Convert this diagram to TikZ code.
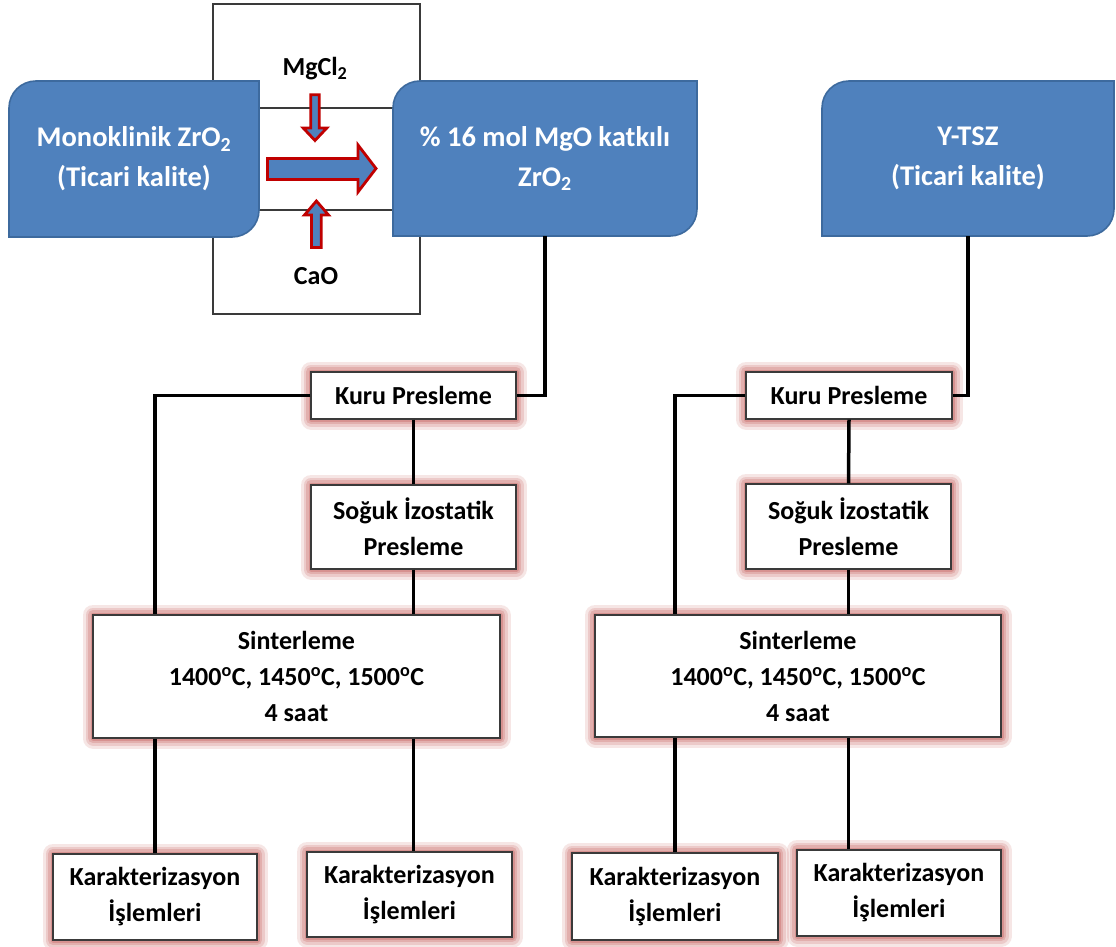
\documentclass[tikz,border=0pt]{standalone}
\usepackage{fontspec}
\setmainfont{Carlito}
\usetikzlibrary{calc}
\definecolor{boxblue}{HTML}{4F81BD}
\definecolor{boxblueborder}{HTML}{3D6A9E}
\definecolor{arrowred}{HTML}{C00000}
\definecolor{glowred}{HTML}{C0504D}
\definecolor{edgegray}{HTML}{3A3A3A}
\tikzset{
  x=1pt, y=-1pt,
  conn/.style={line width=3.5pt, black},
  glowbox/.style={draw=edgegray, line width=1.4pt, fill=white, inner sep=0pt, align=center,
     font=\bfseries\fontsize{26}{36}\selectfont,
     preaction={draw=glowred, draw opacity=0.14, line width=21pt, line join=round},
     preaction={draw=glowred, draw opacity=0.18, line width=15pt, line join=round},
     preaction={draw=glowred, draw opacity=0.22, line width=10pt, line join=round},
     preaction={draw=glowred, draw opacity=0.30, line width=5pt, line join=round}},
  bluetext/.style={text=white, align=center, inner sep=0pt,
     font=\bfseries\fontsize{28.5}{40}\selectfont},
  blueshape/.style={fill=boxblue, draw=boxblueborder, line width=1.6pt},
  blockarrow/.style={fill=boxblue, draw=arrowred, line width=2.8pt, line join=miter},
  chemlabel/.style={inner sep=0pt, font=\bfseries\fontsize{26}{30}\selectfont},
  chembox/.style={draw=edgegray, line width=1.3pt, fill=white, inner sep=0pt},
}
% blue box with rounded top-left and bottom-right corners: x1,y1,x2,y2 (y down)
\newcommand\myblueshape[4]{%
  \path[blueshape] (#1,#4) -- (#1,{#2+27})
    .. controls (#1,{#2+12}) and ({#1+12},#2) .. ({#1+27},#2)
    -- (#3,#2) -- (#3,{#4-27})
    .. controls (#3,{#4-12}) and ({#3-12},#4) .. ({#3-27},#4) -- cycle;}
\begin{document}
\begin{tikzpicture}
\useasboundingbox[fill=white] (0,0) rectangle (1116,947);

% central mixing box
\node[chembox, minimum width=207pt, minimum height=310pt] (mix) at (316.5,159) {};
\draw[edgegray, line width=1.3pt] (259,108) -- (393,108);
\draw[edgegray, line width=1.3pt] (259,210) -- (393,210);

% blue boxes
\myblueshape{9}{81}{259}{237}
\node[bluetext, minimum width=250pt, minimum height=156pt] (mono) at (134,159)
  {Monoklinik ZrO\textsubscript{2}\\(Ticari kalite)};
\myblueshape{393}{81}{697}{236}
\node[bluetext, minimum width=304pt, minimum height=155pt] (mgo) at (545,158.5)
  {\% 16 mol MgO katkılı\\ZrO\textsubscript{2}};
\myblueshape{822}{81}{1114}{236}
\node[bluetext, minimum width=292pt, minimum height=155pt] (ytsz) at (968,158.5)
  {Y-TSZ\\(Ticari kalite)};

% chemical labels
\node[chemlabel] (mgcl) at (315,69) {MgCl\textsubscript{2}};
\node[chemlabel] (cao) at (316,276) {CaO};

% block arrows
\path[blockarrow] (267.5,158.5) -- (358,158.5) -- (358,145) -- (376,168.5)
  -- (358,192) -- (358,179.5) -- (267.5,179.5) -- cycle;
\path[blockarrow] (310.8,94.8) -- (319.2,94.8) -- (319.2,128) -- (326.8,128)
  -- (315,140.5) -- (303.2,128) -- (310.8,128) -- cycle;
\path[blockarrow] (311.5,247.5) -- (321.2,247.5) -- (321.2,215) -- (328.5,215)
  -- (316.4,201) -- (304.5,215) -- (311.5,215) -- cycle;

% left process column
\node[glowbox, minimum width=205pt, minimum height=47pt] (kuru1) at (413.5,395.5) {Kuru Presleme};
\node[glowbox, minimum width=205pt, minimum height=84pt] (soguk1) at (413.5,527) {Soğuk İzostatik\\Presleme};
\node[glowbox, minimum width=407pt, minimum height=123pt] (sint1) at (296.5,676.5)
  {Sinterleme\\1400\textsuperscript{o}C, 1450\textsuperscript{o}C, 1500\textsuperscript{o}C\\4 saat};
\node[glowbox, minimum width=204pt, minimum height=86pt] (k1) at (155,897) {Karakterizasyon\\İşlemleri};
\node[glowbox, minimum width=205pt, minimum height=85pt] (k2) at (409.5,894.5) {Karakterizasyon\\İşlemleri};

% right process column
\node[glowbox, minimum width=206pt, minimum height=47pt] (kuru2) at (849,395.5) {Kuru Presleme};
\node[glowbox, minimum width=205pt, minimum height=85pt] (soguk2) at (848.5,526.5) {Soğuk İzostatik\\Presleme};
\node[glowbox, minimum width=406pt, minimum height=122pt] (sint2) at (798,676)
  {Sinterleme\\1400\textsuperscript{o}C, 1450\textsuperscript{o}C, 1500\textsuperscript{o}C\\4 saat};
\node[glowbox, minimum width=206pt, minimum height=87pt] (k3) at (675,896.5) {Karakterizasyon\\İşlemleri};
\node[glowbox, minimum width=204pt, minimum height=86pt] (k4) at (899,893) {Karakterizasyon\\İşlemleri};

% connectors (left)
\draw[conn] (mgo.south) |- (kuru1.east);
\draw[conn] (kuru1.west) -| (k1.north |- sint1.north);
\draw[conn] (kuru1.south) -- (soguk1.north);
\draw[conn] (soguk1.south) -- (soguk1.south |- sint1.north);
\draw[conn] (k1.north |- sint1.south) -- (k1.north);
\draw[conn] (soguk1.south |- sint1.south) -- (soguk1.south |- k2.north);

% connectors (right)
\draw[conn] (ytsz.south) |- (kuru2.east);
\draw[conn] (kuru2.west) -| (k3.north |- sint2.north);
\draw[conn] (kuru2.south) -- (soguk2.north);
\draw[conn] (soguk2.south) -- (soguk2.south |- sint2.north);
\draw[conn] (k3.north |- sint2.south) -- (k3.north);
\draw[conn] (soguk2.south |- sint2.south) -- (soguk2.south |- k4.north);
\end{tikzpicture}
\end{document}
